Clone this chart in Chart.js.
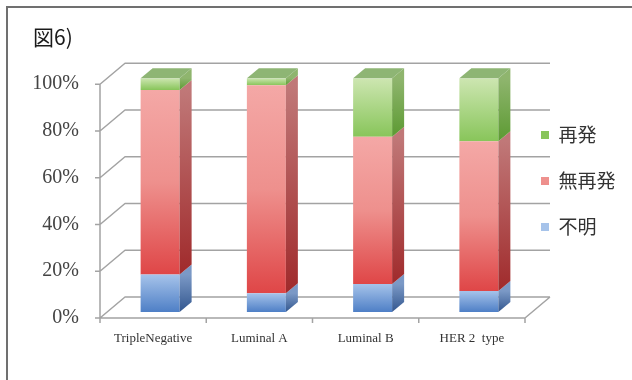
<!DOCTYPE html>
<html lang="ja">
<head>
<meta charset="utf-8">
<title>図6</title>
<style>
  html, body { margin: 0; padding: 0; background: #fff; }
  canvas { display: block; }
</style>
<script src="https://cdn.jsdelivr.net/npm/chart.js@4.4.1/dist/chart.umd.min.js"></script>
</head>
<body>
<canvas id="chart" width="632" height="380"></canvas>
<script>
// Subtypes along the category axis
const categories = ['TripleNegative', 'Luminal A', 'Luminal B', 'HER 2  type'];

// Share of patients per subtype (%), stacked bottom to top
const unknownShare      = [16, 8, 12, 9];    // 不明
const noRecurrenceShare = [79, 89, 63, 64];  // 無再発
const recurrenceShare   = [5, 3, 25, 27];    // 再発

const seriesNames = ['不明', '無再発', '再発'];
const percentTicks = [0, 20, 40, 60, 80, 100];

// Face colours for each series: front gradient, side gradient, top face, legend swatch
const PALETTE = [
  { front: ['#a6c3ea', '#4e7fc6'], side: ['#7b99c6', '#33578f'], top: '#7fa0cf', swatch: '#6b98d6' },
  { front: ['#f4a8a6', '#ee908d', '#df4647'], side: ['#c07878', '#a02a2b'], top: '#d88080', swatch: '#e25b5b' },
  { front: ['#cde6b1', '#88c55a'], side: ['#8fb56e', '#5c9a32'], top: '#8eb574', swatch: '#a3d47f' }
];

// Oblique projection offsets (px) relative to the bar plane
const DEPTH = { front: [-7, 6], wall: [18, -15], bar: [12, -10] };
const LEGEND_AT = { x: 541, y: 135 };
const GRID_COLOR = '#a3a3a3';

function frontFill(ctx) {
  const pal = PALETTE[ctx.datasetIndex];
  if (ctx.type !== 'data') return pal.swatch;
  const chart = ctx.chart;
  const yScale = chart.scales && chart.scales.y;
  if (!yScale) return pal.swatch;
  const column = chart.data.datasets.map(d => d.data[ctx.dataIndex]);
  const start = column.slice(0, ctx.datasetIndex).reduce((a, b) => a + b, 0);
  const top = yScale.getPixelForValue(start + column[ctx.datasetIndex]);
  const bottom = yScale.getPixelForValue(start);
  if (!isFinite(top) || !isFinite(bottom) || top === bottom) return pal.swatch;
  const g = chart.ctx.createLinearGradient(0, top, 0, bottom);
  const stops = pal.front;
  stops.forEach((c, i) => g.addColorStop(i / (stops.length - 1), c));
  return g;
}

// Draws the page frame, the back wall / floor grid and the 3D faces of each bar
const frame3d = {
  id: 'frame3d',
  beforeDraw(chart) {
    const { ctx, width, height } = chart;
    ctx.save();
    ctx.fillStyle = '#fff';
    ctx.fillRect(0, 0, width, height);
    ctx.strokeStyle = '#707070';
    ctx.lineWidth = 2;
    ctx.beginPath();
    ctx.moveTo(7, height);
    ctx.lineTo(7, 7);
    ctx.lineTo(width, 7);
    ctx.stroke();
    ctx.restore();
  },
  beforeDatasetsDraw(chart) {
    const { ctx, scales: { x, y } } = chart;
    const [fx, fy] = DEPTH.front;
    const [wx, wy] = DEPTH.wall;
    const left = x.left, right = x.right;
    const y0 = y.getPixelForValue(y.min);
    const y1 = y.getPixelForValue(y.max);
    ctx.save();
    ctx.strokeStyle = GRID_COLOR;
    ctx.lineWidth = 1.5;
    ctx.lineJoin = 'round';
    ctx.beginPath();
    y.ticks.forEach(t => {
      const py = y.getPixelForValue(t.value);
      ctx.moveTo(left + fx - 5, py + fy);
      ctx.lineTo(left + fx, py + fy);
      ctx.lineTo(left + wx, py + wy);
      ctx.lineTo(right + wx, py + wy);
    });
    // value axis on the front edge
    ctx.moveTo(left + fx, y0 + fy);
    ctx.lineTo(left + fx, y1 + fy);
    // floor: front edge and right edge
    ctx.moveTo(left + fx, y0 + fy);
    ctx.lineTo(right + fx, y0 + fy);
    ctx.lineTo(right + wx, y0 + wy);
    // category separators
    const n = categories.length;
    for (let i = 0; i <= n; i++) {
      const px = left + fx + (right - left) * i / n;
      ctx.moveTo(px, y0 + fy);
      ctx.lineTo(px, y0 + fy + 5);
    }
    ctx.stroke();
    ctx.restore();
  },
  afterDatasetsDraw(chart) {
    const { ctx } = chart;
    const [bx, by] = DEPTH.bar;
    const last = chart.data.datasets.length - 1;
    ctx.save();
    chart.data.datasets.forEach((ds, di) => {
      const meta = chart.getDatasetMeta(di);
      const pal = PALETTE[di];
      meta.data.forEach(bar => {
        const { x, y, base, width } = bar.getProps(['x', 'y', 'base', 'width'], true);
        if (![x, y, base, width].every(isFinite)) return;
        const l = x - width / 2, r = x + width / 2;
        const g = ctx.createLinearGradient(0, y, 0, base === y ? y + 1 : base);
        g.addColorStop(0, pal.side[0]);
        g.addColorStop(1, pal.side[1]);
        ctx.fillStyle = g;
        ctx.beginPath();
        ctx.moveTo(r, y);
        ctx.lineTo(r + bx, y + by);
        ctx.lineTo(r + bx, base + by);
        ctx.lineTo(r, base);
        ctx.closePath();
        ctx.fill();
        if (di === last) {
          ctx.fillStyle = pal.top;
          ctx.beginPath();
          ctx.moveTo(l, y);
          ctx.lineTo(l + bx, y + by);
          ctx.lineTo(r + bx, y + by);
          ctx.lineTo(r, y);
          ctx.closePath();
          ctx.fill();
        }
      });
    });
    ctx.restore();
  }
};

// Moves the legend column next to the floor's right edge (its clip box keeps the canvas' right edge)
const legendPlacer = {
  id: 'legendPlacer',
  afterLayout(chart) {
    const lg = chart.legend;
    if (!lg || !lg.columnSizes || !lg.columnSizes.length) return;
    const lab = lg.options.labels;
    const pad = lab.padding;
    lg.left = LEGEND_AT.x - pad;
    lg.right = chart.width;
    lg.width = lg.right - lg.left;
    const itemH = Math.max(lab.font.size, lab.boxHeight);
    const firstTop = (lg.top + pad + lg.bottom - lg.columnSizes[0].height) / 2;
    const dy = LEGEND_AT.y - (firstTop + itemH / 2);
    lg.top += dy;
    lg.bottom += dy;
  }
};

const serifTick = { family: "'Liberation Serif', 'DejaVu Serif', serif" };

new Chart(document.getElementById('chart'), {
  type: 'bar',
  data: {
    labels: categories,
    datasets: [
      { label: seriesNames[0], data: unknownShare, backgroundColor: frontFill },
      { label: seriesNames[1], data: noRecurrenceShare, backgroundColor: frontFill },
      { label: seriesNames[2], data: recurrenceShare, backgroundColor: frontFill }
    ]
  },
  options: {
    responsive: false,
    animation: false,
    devicePixelRatio: 1,
    layout: { padding: { left: 33, right: 5, top: 0, bottom: 0 } },
    datasets: {
      bar: { categoryPercentage: 1, barPercentage: 0.367, borderWidth: 0 }
    },
    scales: {
      x: {
        stacked: true,
        grid: { display: false, drawTicks: false },
        border: { display: false },
        ticks: {
          padding: 19,
          labelOffset: DEPTH.front[0],
          maxRotation: 0,
          autoSkip: false,
          color: '#333',
          font: { ...serifTick, size: 13 }
        },
        afterFit(scale) { scale.height = 68; }
      },
      y: {
        stacked: true,
        min: percentTicks[0],
        max: percentTicks[percentTicks.length - 1],
        grid: { display: false, drawTicks: false },
        border: { display: false },
        afterBuildTicks(scale) { scale.ticks = percentTicks.map(v => ({ value: v })); },
        ticks: {
          padding: 28,
          labelOffset: DEPTH.front[1],
          color: '#444',
          font: { ...serifTick, size: 20 },
          callback: v => v + '%'
        },
        afterFit(scale) { scale.width = 74; }
      }
    },
    plugins: {
      title: {
        display: true,
        text: '図6)',
        align: 'start',
        color: '#1a1a1a',
        font: { family: "'Noto Sans CJK JP', sans-serif", size: 21, weight: 'normal', lineHeight: 1.2 },
        padding: { top: 24, bottom: 29 }
      },
      legend: {
        display: true,
        position: 'right',
        maxWidth: 95,
        reverse: true,
        labels: {
          boxWidth: 8,
          boxHeight: 8,
          padding: 27,
          color: '#333',
          font: { family: "'Noto Sans CJK JP', sans-serif", size: 19 }
        }
      },
      tooltip: { enabled: false }
    }
  },
  plugins: [frame3d, legendPlacer]
});
</script>
</body>
</html>
